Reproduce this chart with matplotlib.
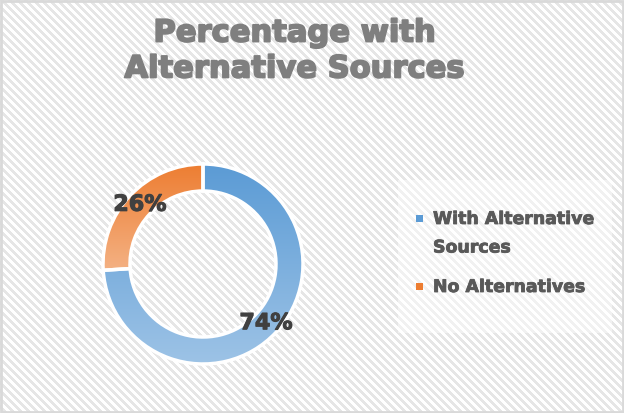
import numpy as np
import matplotlib.pyplot as plt
from matplotlib.patches import Rectangle
import matplotlib.patheffects as pe
from matplotlib.colors import LinearSegmentedColormap

# share of sources
categories = ['With Alternative\nSources', 'No Alternatives']
shares = [74, 26]
top_colors = ['#5B9BD5', '#ED7D31']
bottom_colors = ['#9DC3E6', '#F4B183']
title = 'Percentage with\nAlternative Sources'

W, H = 624, 413
fig = plt.figure(figsize=(W / 100, H / 100), dpi=100)

# striped chart background
bg = fig.add_axes([0, 0, 1, 1])
yy, xx = np.mgrid[0:H, 0:W]
stripes = np.where(((xx - yy) % 8) < 4, 0.90, 1.0)
bg.imshow(stripes, cmap='gray', vmin=0, vmax=1, extent=(0, W, 0, H),
          aspect='auto', interpolation='nearest')
bg.set_xlim(0, W)
bg.set_ylim(0, H)
bg.axis('off')
bg.add_patch(Rectangle((1, 1), W - 2, H - 2, fill=False, edgecolor='#D9D9D9', lw=2))
# lighter panel behind the legend
bg.add_patch(Rectangle((398, H - 333), 214, 153, facecolor='white', alpha=0.45, lw=0))


def px_axes(cx, cy, r):
    return [(cx - r) / W, (H - cy - r) / H, 2 * r / W, 2 * r / H]


# donut
pad = 1.04
ax = fig.add_axes(px_axes(203, 264, 100 * pad))
wedges, _, autotexts = ax.pie(
    shares, startangle=90, counterclock=False, radius=1.0,
    autopct='%d%%', pctdistance=0.865,
    wedgeprops=dict(width=0.27, edgecolor='white', linewidth=2.5),
    textprops=dict(color='#404040', fontsize=16, fontweight='bold'))
for w, c0, c1 in zip(wedges, top_colors, bottom_colors):
    w.set_facecolor('none')
    x0, y0, x1, y1 = w.get_path().get_extents(w.get_patch_transform()).extents
    cmap = LinearSegmentedColormap.from_list('g', [c1, c0])
    grad = np.linspace(0, 1, 256).reshape(-1, 1)
    im = ax.imshow(grad, cmap=cmap, extent=(x0, x1, y0, y1), origin='lower',
                   aspect='auto', zorder=0.5)
    im.set_clip_path(w)
for t in autotexts:
    t.set_path_effects([pe.withStroke(linewidth=0.8, foreground='#404040')])
ax.set_xlim(-pad, pad)
ax.set_ylim(-pad, pad)
ax.axis('off')

# title
fig.text(294 / W, 1 - 51 / H, title, ha='center', va='center', fontsize=22,
         fontweight='bold', color='#7F7F7F', linespacing=1.3,
         path_effects=[pe.withStroke(linewidth=1.3, foreground='#7F7F7F')])

# legend
legend_y = [218, 286]
for label, c0, c1, y in zip(categories, top_colors, bottom_colors, legend_y):
    bg.add_patch(Rectangle((416, H - y - 3.5), 7, 7, facecolor=c0, lw=0))
    bg.text(433, H - y + 8, label, ha='left', va='top', fontsize=12.5,
            fontweight='bold', color='#595959', linespacing=1.75,
            path_effects=[pe.withStroke(linewidth=0.6, foreground='#595959')])

fig.savefig('out.png', dpi=100)
